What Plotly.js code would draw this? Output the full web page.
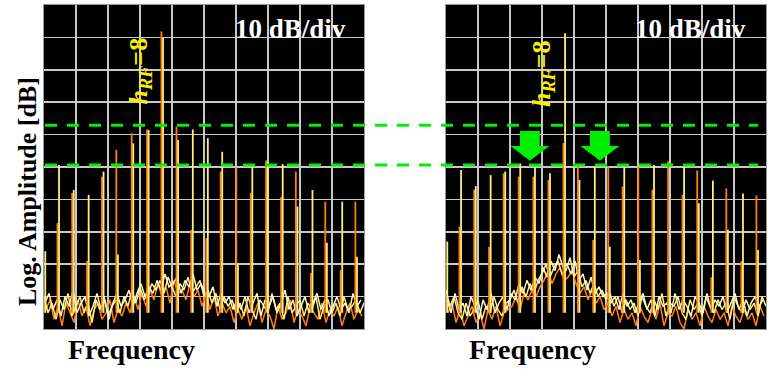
<!DOCTYPE html>
<html>
<head>
<meta charset="utf-8">
<script src="https://cdn.plot.ly/plotly-3.0.1.min.js"></script>
<style>body{margin:0;background:#fff}#chart{width:769px;height:380px}</style>
</head>
<body>
<div id="chart"></div>
<script>
// spectrum analyser screenshots, x in divisions (0..10), y in dB (10 dB/div)
var noiseStep = 0.125;

// noise floor, three sweeps per screen (yellow / orange / pale)
var leftNoiseYellow = [-90,-95,-92,-97,-91,-94,-89,-96,-93,-90,-95,-92,-98,-91,-94,-90,-96,-93,-91,-95,
  -90,-93,-88,-92,-87,-91,-89,-86,
  -88,-85,-89,-84,-87,-90,-86,-88,-84,-89,-87,-85,-90,
  -88,-92,-89,-94,-90,-93,-91,-95,
  -92,-96,-90,-94,-97,-91,-93,-95,-89,-94,-92,-97,-90,-95,-93,-91,-96,-92,-94,-90,-97,-93,-91,-95,-92,-96,-90,-94,-93,-91,-95,-92];
var leftNoiseOrange = [-94,-91,-97,-93,-99,-92,-95,-98,-91,-96,-93,-99,-94,-92,-97,-95,-91,-98,-94,-96,
  -92,-95,-90,-94,-89,-93,-88,-91,
  -86,-90,-87,-92,-85,-89,-88,-91,-86,-90,-88,-93,-89,
  -94,-90,-96,-92,-95,-93,-98,-94,
  -97,-93,-99,-95,-92,-98,-94,-96,-100,-93,-97,-95,-91,-98,-94,-96,-99,-93,-95,-97,-92,-98,-94,-96,-93,-99,-95,-92,-97,-94,-96];
var leftNoisePale = [-92,-89,-94,-91,-96,-90,-93,-88,-95,-92,-90,-96,-93,-89,-94,-91,-97,-92,-89,-93,
  -91,-88,-93,-89,-86,-90,-87,-89,
  -85,-88,-83,-87,-86,-84,-89,-85,-87,-83,-88,-86,-89,
  -90,-87,-93,-89,-92,-90,-94,-91,
  -94,-90,-95,-92,-89,-96,-91,-93,-90,-95,-92,-88,-94,-91,-96,-93,-90,-95,-92,-89,-94,-91,-96,-93,-90,-94,-92,-95,-89,-93,-91];
var rightNoiseYellow = [-88,-93,-90,-95,-97,-92,-96,-94,-91,-97,-93,-95,-90,-94,-96,-92,
  -91,-88,-92,-87,-90,-86,-89,-85,
  -83,-80,-84,-81,-79,-83,-82,-78,-84,
  -82,-87,-85,-89,-86,-90,-88,-91,
  -89,-93,-90,-95,-91,-94,-92,-96,-90,-93,-95,-91,-94,-89,-96,-92,-93,-90,-95,-97,-91,-94,-92,-96,-90,-93,-95,-91,-94,-92,-97,-90,-93,-95,-91,-94,-92,-96,-90,-93];
var rightNoiseOrange = [-95,-92,-98,-94,-99,-96,-93,-98,-95,-100,-94,-97,-93,-99,-95,-94,
  -93,-90,-94,-89,-91,-88,-90,-87,
  -85,-82,-86,-83,-81,-85,-84,-82,
  -86,-89,-87,-91,-88,-92,-90,-94,
  -92,-96,-93,-98,-94,-97,-95,-99,-93,-96,-98,-94,-97,-92,-99,-95,-96,-93,-98,-100,-94,-97,-95,-99,-93,-96,-98,-94,-97,-95,-99,-93,-96,-98,-94,-97,-95,-99,-93,-96];
var rightNoisePale = [-91,-95,-89,-94,-92,-96,-90,-93,-97,-91,-94,-89,-95,-92,-90,-94,
  -89,-91,-86,-89,-85,-88,-84,-86,
  -81,-84,-79,-82,-77,-81,-80,-83,-79,
  -85,-83,-88,-84,-89,-87,-90,-89,
  -92,-90,-94,-89,-93,-91,-95,-92,-89,-94,-91,-96,-90,-93,-92,-95,-89,-94,-91,-93,-96,-90,-92,-95,-89,-94,-91,-93,-90,-95,-92,-89,-94,-91,-96,-92,-90,-93,-91];

// harmonic lines
var leftSpikeX = [0.02,0.45,0.91,1.375,1.84,2.29,2.77,3.25,3.70,4.17,4.63,5.10,5.55,6.04,6.49,6.97,7.44,7.90,8.37,8.82,9.30,9.76];
var leftSpikeYellow = [-76,-49.4,-57.1,-58.6,-51.4,-77,-42.7,-38.6,-10,-41.7,-38.4,-41.1,-45.3,-79.6,-49.9,-48.5,-49.1,-62.2,-57.1,-73.4,-60.7,-77.7];
var leftSpikeOrange = [-90,-67.3,-58,-79,-53,-44.7,-39.6,-38.4,-8.2,-37.6,-69.4,-72,-51.4,-50.1,-58,-48,-59.2,-51.4,-82.7,-60.7,-81.8,-60.7];
var rightSpikeX = [0.02,0.45,0.91,1.375,1.83,2.30,2.76,3.23,3.70,4.15,4.63,5.10,5.55,6.04,6.48,6.97,7.42,7.88,8.32,8.79,9.26,9.73];
var rightSpikeYellow = [-73,-50.9,-55.9,-52.5,-51.4,-48.9,-49.9,-51.9,-8.7,-54,-49.9,-74.6,-50.1,-78.7,-49.4,-81.8,-49.9,-61.2,-54.2,-69.4,-58.2,-75.6];
var rightSpikeOrange = [-90,-68.4,-57,-74.6,-52,-53,-53,-54,-42.6,-49.9,-72.5,-49.9,-56,-49.9,-57,-48.3,-58.6,-51.1,-84,-56.6,-79,-58.8];

var refLevels = [-37.1, -49.4];   // green dashed levels
var arrowX = [2.62, 4.81];        // green arrows on the right screen

var yellow = '#ffee80', orange = '#ff8010', pale = '#fff6c4';

function noiseTrace(vals, offset, color, xa, ya) {
  return {type: 'scatter', mode: 'lines', x: vals.map(function (v, i) { return (i + offset) * noiseStep; }),
    y: vals, xaxis: xa, yaxis: ya, line: {color: color, width: 1.5}, hoverinfo: 'skip', showlegend: false};
}
function spikeTrace(xs, tops, dx, color, xa, ya) {
  var x = [], y = [];
  xs.forEach(function (v, i) { x.push(v + dx, v + dx, null); y.push(-95, tops[i], null); });
  return {type: 'scatter', mode: 'lines', x: x, y: y, xaxis: xa, yaxis: ya,
    line: {color: color, width: 1.8}, hoverinfo: 'skip', showlegend: false, connectgaps: false};
}

var data = [
  noiseTrace(leftNoiseOrange, 0.5, orange, 'x', 'y'),
  noiseTrace(leftNoiseYellow, 0, yellow, 'x', 'y'),
  noiseTrace(leftNoisePale, 0.25, pale, 'x', 'y'),
  spikeTrace(leftSpikeX, leftSpikeOrange, -0.03, orange, 'x', 'y'),
  spikeTrace(leftSpikeX, leftSpikeYellow, 0.02, yellow, 'x', 'y'),
  noiseTrace(rightNoiseOrange, 0.5, orange, 'x2', 'y2'),
  noiseTrace(rightNoiseYellow, 0, yellow, 'x2', 'y2'),
  noiseTrace(rightNoisePale, 0.25, pale, 'x2', 'y2'),
  spikeTrace(rightSpikeX, rightSpikeOrange, -0.03, orange, 'x2', 'y2'),
  spikeTrace(rightSpikeX, rightSpikeYellow, 0.02, yellow, 'x2', 'y2')
];

function xax(dom, anchor) {
  return {domain: dom, anchor: anchor, range: [0, 10], tick0: 0, dtick: 1, showgrid: true, gridcolor: '#c8c8c8',
    gridwidth: 1.5, zeroline: false, showticklabels: false, ticks: '', showline: true, linecolor: '#999', mirror: true, fixedrange: true};
}
function yax(anchor) {
  return {anchor: anchor, domain: [0, 1], range: [-100, 0], tick0: 0, dtick: 10, showgrid: true, gridcolor: '#c8c8c8',
    gridwidth: 1.5, zeroline: false, showticklabels: false, ticks: '', showline: true, linecolor: '#999', mirror: true, fixedrange: true};
}

var shapes = refLevels.map(function (lv) {
  return {type: 'line', xref: 'paper', yref: 'y', x0: 0.0014, x1: 0.989, y0: lv, y1: lv,
    line: {color: '#00ee00', width: 3, dash: '12px,10px'}, layer: 'above'};
});
arrowX.forEach(function (ax) {
  var p = 'M' + (ax - 0.31) + ',-38.9 L' + (ax + 0.31) + ',-38.9 L' + (ax + 0.31) + ',-43.5 L' + (ax + 0.61) + ',-43.5 L' +
    ax + ',-48.1 L' + (ax - 0.61) + ',-43.5 L' + (ax - 0.31) + ',-43.5 Z';
  shapes.push({type: 'path', xref: 'x2', yref: 'y2', path: p, fillcolor: '#00ee00', line: {width: 0}, layer: 'above'});
});

var serif = 'Liberation Serif, DejaVu Serif, serif';
function note(xref, yref, x, y, text, size, color, angle) {
  return {xref: xref, yref: yref, x: x, y: y, xanchor: 'center', yanchor: 'middle', text: text, textangle: angle || 0,
    showarrow: false, font: {family: serif, size: size, color: color}};
}
var annotations = [
  note('x', 'y', 7.69, -7.5, '<b>10 dB/div</b>', 27, '#ffffff'),
  note('x2', 'y2', 7.63, -7.5, '<b>10 dB/div</b>', 27, '#ffffff'),
  note('x', 'y', 3.0, -20.5, '<b><i>h</i><sub><i>RF</i></sub>=8</b>', 26, '#f8f000', -90),
  note('x2', 'y2', 3.03, -21, '<b><i>h</i><sub><i>RF</i></sub>=8</b>', 26, '#f8f000', -90),
  note('paper', 'paper', (131 - 44) / 722, (329 - 349) / 324, '<b>Frequency</b>', 28, '#000000'),
  note('paper', 'paper', (532 - 44) / 722, (329 - 349) / 324, '<b>Frequency</b>', 28, '#000000'),
  note('paper', 'paper', (27 - 44) / 722, (329 - 192) / 324, '<b>Log. Amplitude [dB]</b>', 26, '#000000', -90)
];

var layout = {
  width: 769, height: 380,
  margin: {l: 44, r: 3, t: 5, b: 51},
  paper_bgcolor: '#ffffff', plot_bgcolor: '#000000',
  showlegend: false,
  xaxis: xax([0, 0.4432], 'y'),
  yaxis: yax('x'),
  xaxis2: xax([0.5568, 1], 'y2'),
  yaxis2: yax('x2'),
  shapes: shapes,
  annotations: annotations
};

Plotly.newPlot('chart', data, layout, {staticPlot: true, displayModeBar: false});
</script>
</body>
</html>
